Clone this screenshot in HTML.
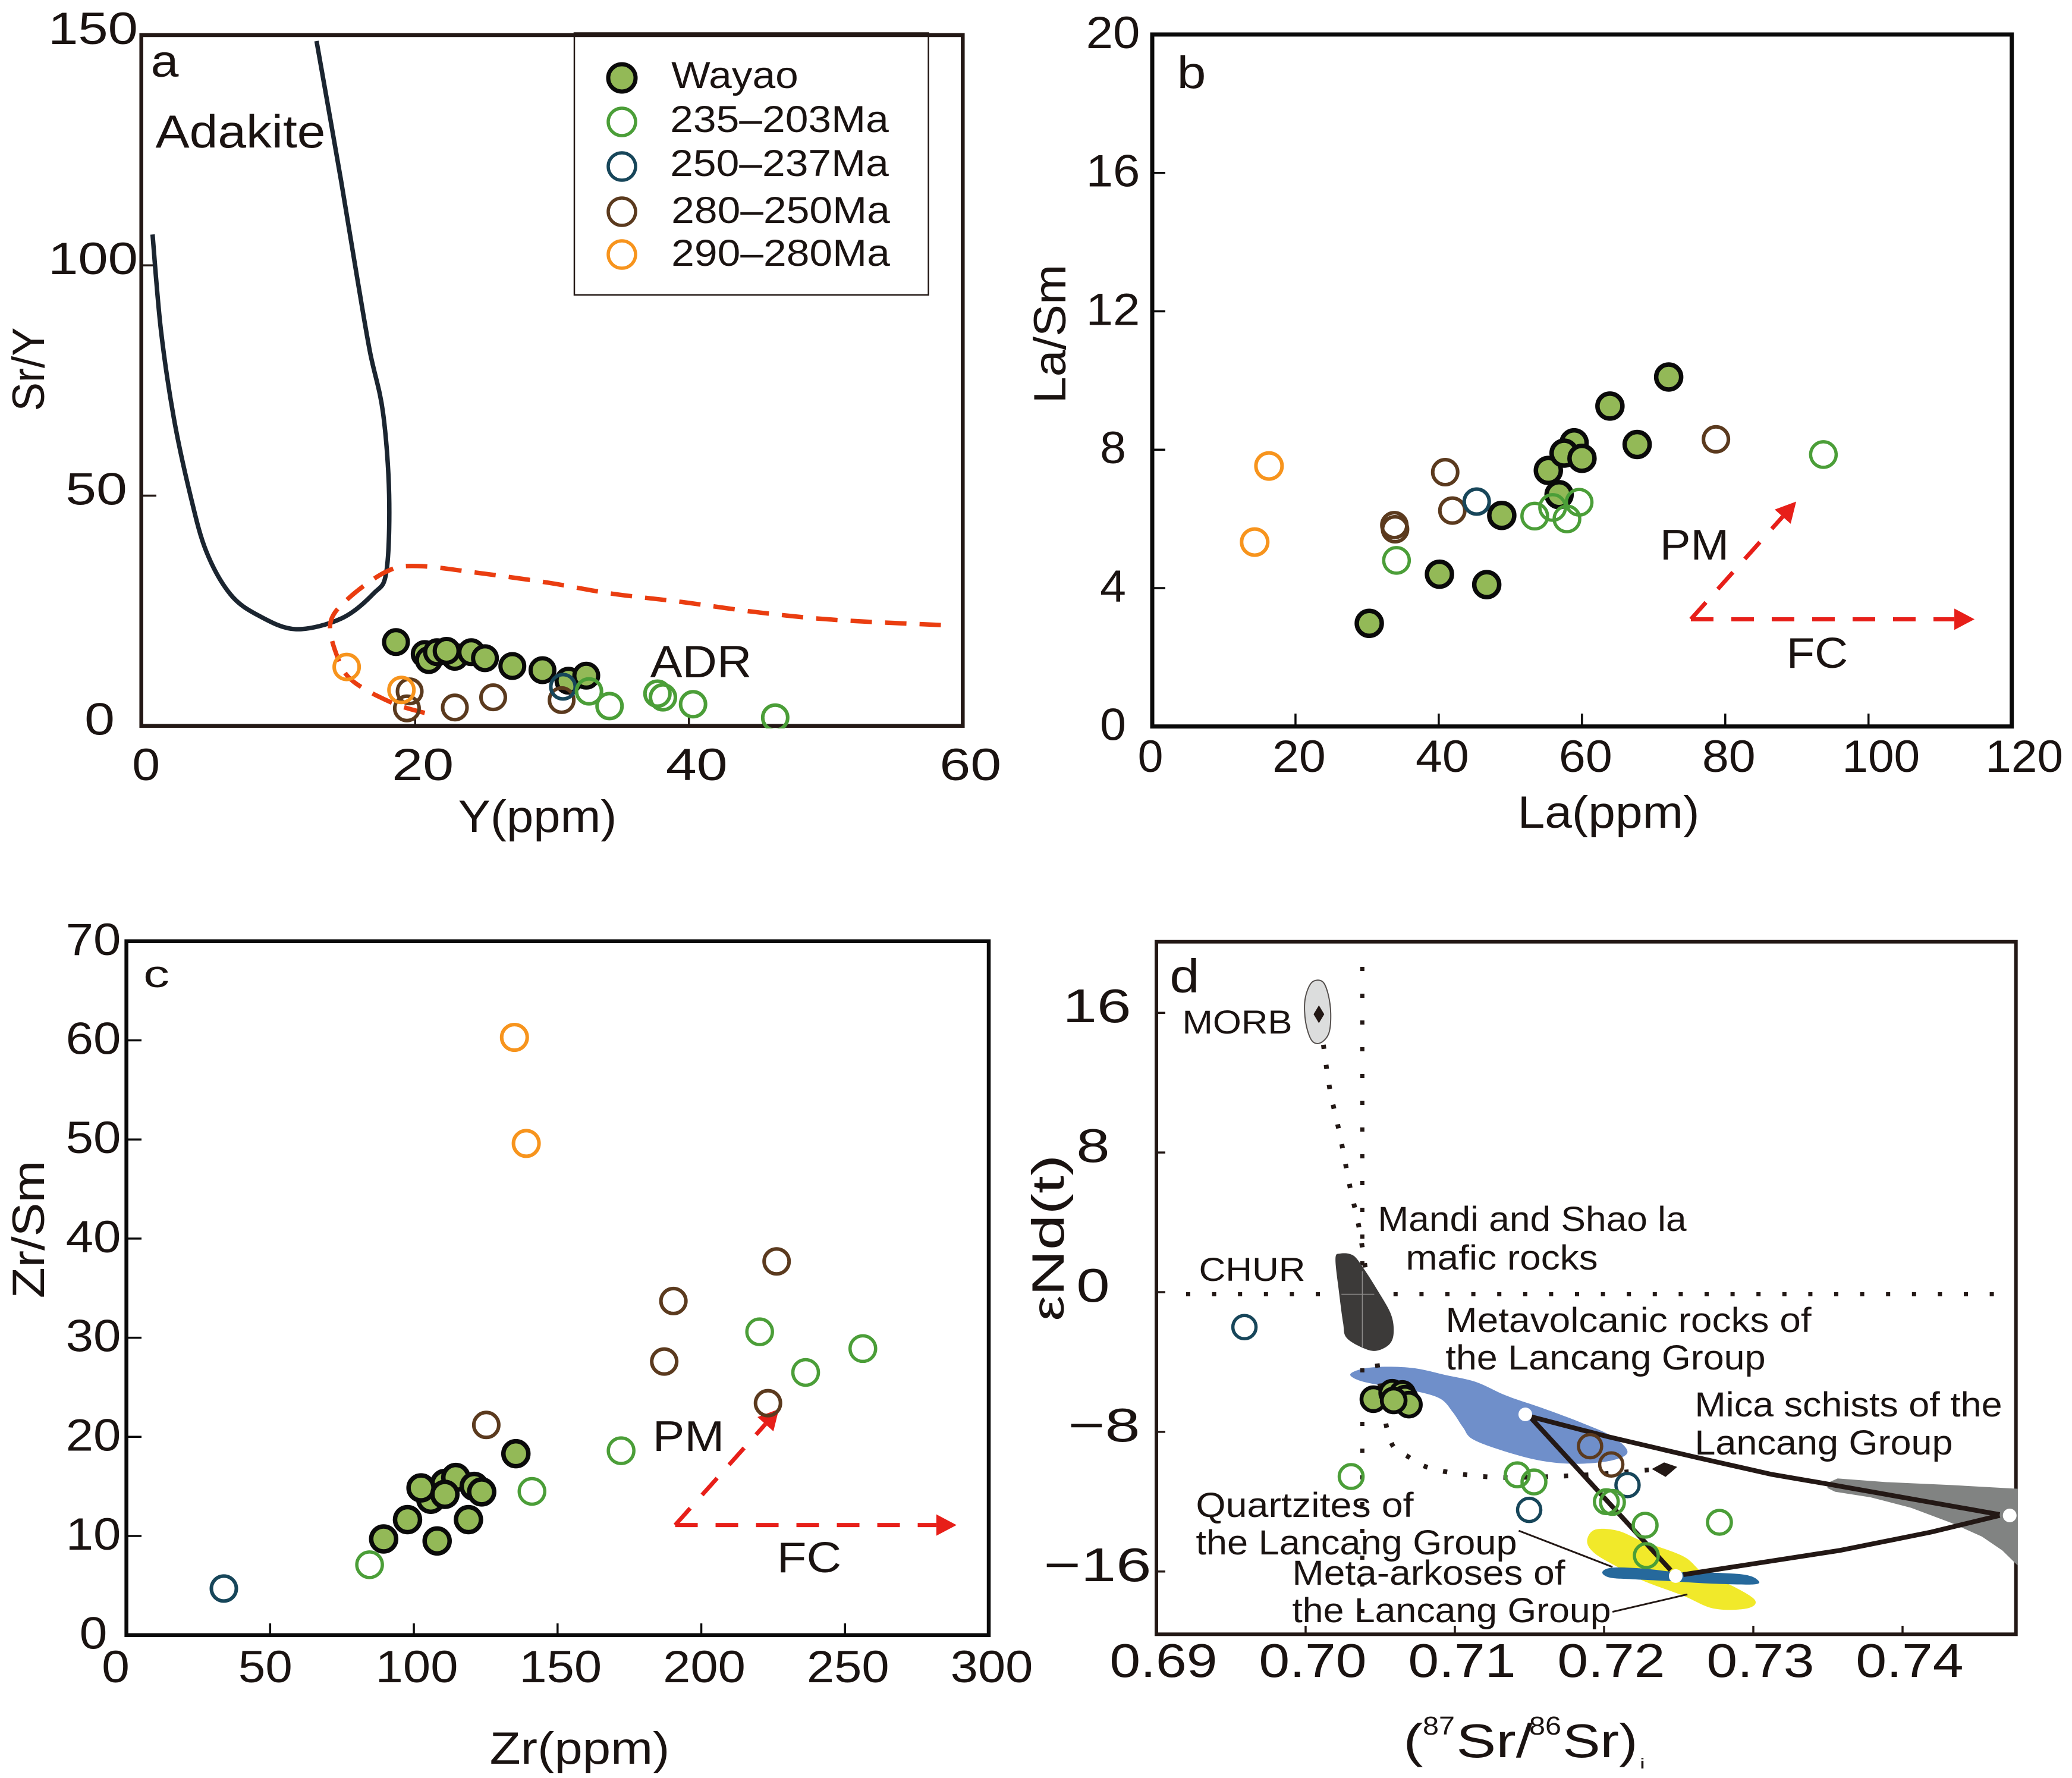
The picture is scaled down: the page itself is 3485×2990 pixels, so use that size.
<!DOCTYPE html>
<html lang="en">
<head>
<meta charset="utf-8">
<title>Geochemical discrimination diagrams</title>
<style>
html,body{margin:0;padding:0;background:#fff;width:3485px;height:2990px;overflow:hidden}
svg{display:block}
text{font-family:"Liberation Sans",sans-serif;fill:#1a1311}
</style>
</head>
<body>
<svg id="fig" xmlns="http://www.w3.org/2000/svg" width="3485" height="2990" viewBox="0 0 3485 2990">
  <rect width="3485" height="2990" fill="#fff"/>
  <defs>
    <clipPath id="clipA"><rect x="200" y="40" width="1440" height="1185"/></clipPath>
  </defs>
</svg>
<script>
/* ---------- Panel a data: Y(ppm) vs Sr/Y ---------- */
const aXTicks=[0,20,40,60];
const aYTicks=[0,50,100,150];
const aWayaoX=[20.7,21.0,21.6,22.9,24.1,25.1,22.3,18.6,27.1,29.3,31.2,32.5];
const aWayaoY=[15.6,14.3,16.0,15.0,16.0,14.7,16.3,18.2,13.0,12.1,9.8,10.9];
const aGreenX=[32.7,34.2,37.7,38.1,40.3,46.3];
const aGreenY=[7.5,4.3,7.0,6.2,4.7,1.8];
const aBlueX=[30.8];
const aBlueY=[8.5];
const aBrownX=[19.6,19.4,22.9,25.7,30.7];
const aBrownY=[7.5,3.8,4.0,6.2,5.6];
const aOrangeX=[15.0,19.0];
const aOrangeY=[12.8,7.8];
const aAdakiteX=[0.82,1.43,2.37,3.55,4.73,6.5,8.6,11.3,14.6,16.95,17.9,18.1,17.65,16.7,15.8,14.6,12.8];
const aAdakiteY=[106.7,86.0,66.9,50.5,38.0,28.6,23.9,21,23.3,28.7,33.5,50.2,68.1,81.2,96.7,118.2,148.7];
const aAdrX=[58.4,50.8,45.2,39.5,34.4,29.7,24.9,20.2,17.9,15.1,13.8,14.4,15.5,18.4,21.1];
const aAdrY=[21.9,23,24.6,26.9,28.7,31.1,33.1,34.7,33.5,27.6,22.2,14.4,9.6,4.9,2.5];

/* ---------- Panel b data: La(ppm) vs La/Sm ---------- */
const bXTicks=[0,20,40,60,80,100,120];
const bYTicks=[0,4,8,12,16,20];
const bWayaoX=[30.3,40.1,46.7,48.8,55.3,56.8,58.9,57.5,60,67.7,63.9,72.1];
const bWayaoY=[2.98,4.4,4.1,6.1,7.4,6.7,8.2,7.9,7.75,8.15,9.26,10.1];
const bGreenX=[53.4,55.9,57.9,59.6,34.1,93.7];
const bGreenY=[6.08,6.33,6.0,6.48,4.8,7.86];
const bBlueX=[45.3];
const bBlueY=[6.5];
const bBrownX=[40.9,41.9,33.8,33.9,78.7];
const bBrownY=[7.35,6.24,5.82,5.7,8.3];
const bOrangeX=[16.3,14.3];
const bOrangeY=[7.53,5.33];
const bArrowOrigin=[75.2,3.1];
const bArrowPM=[89.9,6.5];
const bArrowFC=[114.8,3.1];

/* ---------- Panel c data: Zr(ppm) vs Zr/Sm ---------- */
const cXTicks=[0,50,100,150,200,250,300];
const cYTicks=[0,10,20,30,40,50,60,70];
const cWayaoX=[89.5,97.8,108.1,119,105.9,110.8,114.6,121,102.5,123.6,110.8,135.5];
const cWayaoY=[9.7,11.65,9.5,11.65,13.7,15.3,15.9,15,14.85,14.45,14.2,18.3];
const cGreenX=[84.6,141.1,172.1,220.3,236.3,256.2];
const cGreenY=[7.1,14.5,18.6,30.6,26.5,28.9];
const cBlueX=[33.9];
const cBlueY=[4.7];
const cBrownX=[125.2,187.1,190.3,226.2,223.2];
const cBrownY=[21.2,27.6,33.7,37.7,23.4];
const cOrangeX=[135,139.1];
const cOrangeY=[60.3,49.6];
const cArrowOrigin=[190.9,11.1];
const cArrowPM=[227,22.8];
const cArrowFC=[288.8,11.1];

/* ---------- Panel d data: (87Sr/86Sr)i vs eNd(t) ---------- */
const dXTicks=[0.70,0.71,0.72,0.73,0.74];
const dXTickLabels=['0.69','0.70','0.71','0.72','0.73','0.74'];
const dYTicks=[16,8,0,-8,-16];
const dYTickLabels=['16','8','0','\u22128','\u221216'];
const dWayaoX=[0.70454,0.7058,0.70648,0.70665,0.70692,0.7059];
const dWayaoY=[-6.13,-5.76,-5.83,-6.1,-6.44,-6.2];
const dGreenX=[0.70305,0.71418,0.7153,0.72015,0.72056,0.72275,0.72773,0.72283];
const dGreenY=[-10.56,-10.46,-10.87,-12.0,-12.04,-13.35,-13.18,-15.09];
const dBlueX=[0.6959,0.72157,0.71498];
const dBlueY=[-2.0,-11.05,-12.47];
const dBrownX=[0.71906,0.72048];
const dBrownY=[-8.82,-9.87];
const dMaficX=[0.702,0.70231,0.70319,0.70394,0.70478,0.7057,0.7059,0.70563,0.70478,0.70394,0.70275,0.70251,0.70224];
const dMaficY=[1.89,2.21,2.10,1.29,0.16,-1.23,-2.28,-2.97,-3.35,-3.23,-2.62,-1.75,-0.02];
const dMetavolcanicX=[0.70299,0.70377,0.70529,0.70733,0.70936,0.7114,0.71343,0.71581,0.71852,0.72056,0.72157,0.72056,0.71818,0.71581,0.71343,0.71123,0.71055,0.70987,0.70902,0.70733,0.70495,0.7036];
const dMetavolcanicY=[-4.71,-4.40,-4.27,-4.36,-4.74,-5.14,-5.92,-6.62,-7.49,-8.27,-9.14,-9.63,-9.83,-9.66,-9.14,-8.44,-7.75,-6.88,-6.10,-5.66,-5.32,-5.06];
const dMicaX=[0.73497,0.73565,0.73887,0.74328,0.74772,0.74772,0.74668,0.74532,0.74328,0.74057,0.73786,0.73548,0.73497];
const dMicaY=[-10.93,-10.67,-10.88,-11.05,-11.26,-15.66,-14.79,-14.0,-13.22,-12.35,-11.75,-11.43,-11.22];
const dQuartziteX=[0.71886,0.71937,0.7209,0.72259,0.72531,0.72666,0.7287,0.73012,0.72955,0.72734,0.72531,0.72259,0.7209,0.71937];
const dQuartziteY=[-14.27,-13.61,-13.66,-14.27,-15.13,-16.09,-16.87,-17.65,-18.12,-18.12,-17.39,-16.52,-15.74,-14.96];
const dArkoseX=[0.71988,0.72056,0.72259,0.72497,0.72734,0.72938,0.73023,0.73012,0.72734,0.72463,0.72191,0.72039];
const dArkoseY=[-16.04,-15.78,-15.83,-16.04,-16.07,-16.18,-16.44,-16.73,-16.70,-16.56,-16.44,-16.35];
const dMorbX=[0.69996,0.7004,0.70111,0.7015,0.70168,0.70155,0.70097,0.7004,0.7];
const dMorbY=[16.76,17.73,17.8,17.09,15.95,14.82,14.27,14.43,15.47];
const dMorbDiamond=[0.70089,15.92];
const dEmDiamondX=[0.7232,0.72402,0.7249,0.72412];
const dEmDiamondY=[-10.13,-9.75,-10.01,-10.58];
const dMixCurveX=[0.70119,0.70163,0.7023,0.70296,0.70362,0.70428,0.70472,0.7056,0.70692,0.70869,0.71221,0.71574,0.7197,0.72323];
const dMixCurveY=[14.17,11.59,9.0,6.08,3.5,-0.39,-3.62,-8.32,-9.45,-10.16,-10.58,-10.58,-10.42,-10.16];
const dTriTopX=[0.71513,0.72022,0.72632,0.73124,0.7348,0.74651];
const dTriTopY=[-7.14,-8.27,-9.49,-10.44,-10.96,-12.74];
const dTriBottomX=[0.74651,0.74193,0.73582,0.72531];
const dTriBottomY=[-12.79,-13.74,-14.79,-16.18];
const dTriLeftX=[0.72446,0.71513];
const dTriLeftY=[-15.92,-7.23];
const dEndMemberX=[0.71472,0.7248,0.74718];
const dEndMemberY=[-7.0,-16.26,-12.79];
const dChurY=[-0.12];
const dChurX=[0.7038];

/* ---------- Axis functions ---------- */
const ax=v=>237.7+v*23.027, ay=v=>1220.7-v*7.745;
const bx=v=>1938+v*12.0475, by=v=>1221.7-v*58.185;
const cx=v=>212.6+v*4.8347, cy=v=>2749.7-v*16.67;
const dx=v=>1945+(v-0.69)*25100, dy=v=>2173-v*29.36;

/* ---------- Styles ---------- */
const WAYAO_FILL='#93b957', GREEN='#4b9e38', BLUE='#17465a', BROWN='#5b3a1e', ORANGE='#f7941d';
const INK='#231815';
const NS='http://www.w3.org/2000/svg';
const fig=document.getElementById('fig');

function node(tag,parent,attrs){
  const el=document.createElementNS(NS,tag);
  for(const k in attrs) el.setAttribute(k,attrs[k]);
  parent.appendChild(el);
  return el;
}
function group(name,parent){
  const g=node('g',parent||fig,{});
  
  
  return g;
}
function label(g,name,text,x1,x2,base,size,opts){
  opts=opts||{};
  const b=size*0.045;
  const el=node('text',g,{x:x1-b,y:base,'font-size':size,textLength:(x2-x1+2*b),lengthAdjust:'spacingAndGlyphs'});
  if(opts.fill) el.setAttribute('fill',opts.fill);
  el.textContent=text;
  
  
  return el;
}
function vlabel(g,name,text,baseX,y1,y2,size){
  const b=size*0.045;
  const el=node('text',g,{x:baseX,y:y2+b,'font-size':size,textLength:(y2-y1+2*b),lengthAdjust:'spacingAndGlyphs',transform:'rotate(-90 '+baseX+' '+(y2+b)+')'});
  el.textContent=text;
  
  
  return el;
}
function frame(g,name,l,t,r,b,w,color){
  const el=node('rect',g,{x:l,y:t,width:r-l,height:b-t,fill:'none',stroke:color,'stroke-width':w});
  
  
}
function tick(g,name,x1,y1,x2,y2,color){
  const el=node('line',g,{x1:x1,y1:y1,x2:x2,y2:y2,stroke:color,'stroke-width':3.5});
  
  
}
function ring(g,name,x,y,r,stroke,sw,fill){
  const el=node('circle',g,{cx:x,cy:y,r:r,fill:fill||'none',stroke:stroke,'stroke-width':sw});
  
  
}
function series(parent,name,xs,ys,sx,sy,stroke,r,sw,fill){
  const g=group(name,parent);
  xs.forEach((v,i)=>ring(g,name+'-point',sx(v),sy(ys[i]),r,stroke,sw,fill));
  return g;
}
function smooth(pts,closed){
  const n=pts.length;
  const at=i=>closed?pts[(i+n)%n]:pts[Math.max(0,Math.min(n-1,i))];
  let d='M'+pts[0][0].toFixed(1)+' '+pts[0][1].toFixed(1);
  const end=closed?n:n-1;
  for(let i=0;i<end;i++){
    const p0=at(i-1),p1=at(i),p2=at(i+1),p3=at(i+2);
    const c1=[p1[0]+(p2[0]-p0[0])/6,p1[1]+(p2[1]-p0[1])/6];
    const c2=[p2[0]-(p3[0]-p1[0])/6,p2[1]-(p3[1]-p1[1])/6];
    d+='C'+c1[0].toFixed(1)+' '+c1[1].toFixed(1)+' '+c2[0].toFixed(1)+' '+c2[1].toFixed(1)+' '+p2[0].toFixed(1)+' '+p2[1].toFixed(1);
  }
  return d+(closed?'Z':'');
}
function straight(pts,closed){
  return 'M'+pts.map(p=>p[0].toFixed(1)+' '+p[1].toFixed(1)).join('L')+(closed?'Z':'');
}
function toPts(xs,ys,sx,sy){return xs.map((v,i)=>[sx(v),sy(ys[i])]);}
function shape(g,name,d,attrs){
  const el=node('path',g,Object.assign({d:d},attrs));
  
  
  return el;
}
function arrow(g,name,o,t,sx,sy){
  const x1=sx(o[0]),y1=sy(o[1]),x2=sx(t[0]),y2=sy(t[1]);
  const a=Math.atan2(y2-y1,x2-x1),L=34,W=18;
  const bx0=x2-L*Math.cos(a),by0=y2-L*Math.sin(a);
  const d='M'+x1+' '+y1+'L'+bx0+' '+by0;
  shape(g,name+'-shaft',d,{fill:'none',stroke:'#e71f19','stroke-width':7,'stroke-dasharray':'38 30'});
  const h='M'+x2+' '+y2+'L'+(bx0-W*Math.sin(a))+' '+(by0+W*Math.cos(a))+'L'+(bx0+W*Math.sin(a))+' '+(by0-W*Math.cos(a))+'Z';
  shape(g,name+'-head',h,{fill:'#e71f19'});
}

/* ---------- Panel a ---------- */
(function(){
  const g=group('panel-a');
  frame(g,'panel-a-frame',237.7,59,1619.3,1220.7,6.5,INK);
  aXTicks.slice(1,-1).forEach(t=>tick(g,'x-tick',ax(t),1220.7,ax(t),1206,INK));
  aYTicks.slice(1,-1).forEach(t=>tick(g,'y-tick',237.7,ay(t),263,ay(t),INK));
  aXTicks.forEach(t=>{
    const s=String(t), c=ax(t)+(s.length===1?8:13), w=s.length===1?40:97;
    label(g,'x-tick-label',s,c-w/2,c+w/2,1312,76);
  });
  aYTicks.forEach(t=>{
    const s=String(t), n=s.length, c=173-5.5*n, w=n===3?144:n===2?97:44;
    label(g,'y-tick-label',s,c-w/2,c+w/2,ay(t)+15,76);
  });
  label(g,'x-axis-title','Y(ppm)',774,1034,1399,76);
  vlabel(g,'y-axis-title','Sr/Y',74,554,688,76);
  label(g,'panel-a-letter','a',257,297,129,76);
  label(g,'adakite-label','Adakite',265,544,248,78);
  label(g,'adr-label','ADR',1097,1261,1139,76);
  shape(g,'adakite-field-boundary',smooth(toPts(aAdakiteX,aAdakiteY,ax,ay),false),{fill:'none',stroke:'#1b2530','stroke-width':7.5});
  shape(g,'adr-field-boundary',smooth(toPts(aAdrX,aAdrY,ax,ay),false),{fill:'none',stroke:'#ea3d10','stroke-width':7.5,'stroke-dasharray':'36 22'});
  const pts=group('panel-a-points',g);
  pts.setAttribute('clip-path','url(#clipA)');
  series(pts,'a-wayao',aWayaoX,aWayaoY,ax,ay,'#0a0a0a',20,7,WAYAO_FILL);
  series(pts,'a-brown',aBrownX,aBrownY,ax,ay,BROWN,20.5,6);
  series(pts,'a-blue',aBlueX,aBlueY,ax,ay,BLUE,20.5,6);
  series(pts,'a-green',aGreenX,aGreenY,ax,ay,GREEN,21,6);
  series(pts,'a-orange',aOrangeX,aOrangeY,ax,ay,ORANGE,21,6);
  /* legend */
  const lg=group('legend',g);
  const box=node('rect',lg,{x:966,y:55.5,width:595.6,height:440.5,fill:'none',stroke:INK,'stroke-width':2.5});
  
  
  const rows=[
    ['Wayao',131,148,1132,1340,'#0a0a0a',WAYAO_FILL,7],
    ['235\u2013203Ma',205,222,1130,1492,GREEN,null,5.5],
    ['250\u2013237Ma',280,296,1130,1492,BLUE,null,5.5],
    ['280\u2013250Ma',356,375,1132,1494,BROWN,null,5.5],
    ['290\u2013280Ma',428,447,1132,1494,ORANGE,null,5.5]
  ];
  rows.forEach(r=>{
    ring(lg,'legend-marker',1046,r[1],23,r[5],r[7],r[6]);
    label(lg,'legend-entry',r[0],r[3],r[4],r[2],63);
  });
})();

/* ---------- Panel b ---------- */
(function(){
  const g=group('panel-b');
  frame(g,'panel-b-frame',1938,58,3383.7,1221.7,7,'#0a0a0a');
  bXTicks.slice(1,-1).forEach(t=>tick(g,'x-tick',bx(t),1221.7,bx(t),1200,'#0a0a0a'));
  bYTicks.slice(1,-1).forEach(t=>tick(g,'y-tick',1938,by(t),1960,by(t),'#0a0a0a'));
  bXTicks.forEach(t=>{
    const s=String(t), n=s.length, d=n===1?-3:n===2?6:21, w=n===1?36:n===2?83:124;
    const c=bx(t)+d;
    label(g,'x-tick-label',s,c-w/2,c+w/2,1298,76);
  });
  bYTicks.forEach(t=>{
    const s=String(t), w=s.length===1?37:84;
    label(g,'y-tick-label',s,1872-w/2,1872+w/2,by(t)+23,76);
  });
  label(g,'x-axis-title','La(ppm)',2556,2855,1392,76);
  vlabel(g,'y-axis-title','La/Sm',1792,448,675,76);
  label(g,'panel-b-letter','b',1983,2025,148,76);
  label(g,'pm-label','PM',2795,2905,941,72);
  label(g,'fc-label','FC',3008,3105,1123,72);
  arrow(g,'pm-arrow',bArrowOrigin,bArrowPM,bx,by);
  arrow(g,'fc-arrow',bArrowOrigin,bArrowFC,bx,by);
  series(g,'b-wayao',bWayaoX,bWayaoY,bx,by,'#0a0a0a',21,7.5,WAYAO_FILL);
  series(g,'b-brown',bBrownX,bBrownY,bx,by,BROWN,21,6);
  series(g,'b-blue',bBlueX,bBlueY,bx,by,BLUE,21,6);
  series(g,'b-green',bGreenX,bGreenY,bx,by,GREEN,21.5,5.5);
  series(g,'b-orange',bOrangeX,bOrangeY,bx,by,ORANGE,22,6);
})();

/* ---------- Panel c ---------- */
(function(){
  const g=group('panel-c');
  frame(g,'panel-c-frame',212.6,1582.8,1663,2749.7,6.5,'#0a0a0a');
  cXTicks.slice(1,-1).forEach(t=>tick(g,'x-tick',cx(t),2749.7,cx(t),2730,'#0a0a0a'));
  cYTicks.slice(1,-1).forEach(t=>tick(g,'y-tick',212.6,cy(t),238,cy(t),'#0a0a0a'));
  cXTicks.forEach(t=>{
    const s=String(t), n=s.length, d=n===1?-18:n===2?-8:5, w=n===1?40:n===2?84:132;
    const c=cx(t)+d;
    label(g,'x-tick-label',s,c-w/2,c+w/2,2829,76);
  });
  cYTicks.forEach(t=>{
    const s=String(t), w=s.length===1?40:86;
    label(g,'y-tick-label',s,157-w/2,157+w/2,cy(t)+23,76);
  });
  label(g,'x-axis-title','Zr(ppm)',827,1123,2966,76);
  vlabel(g,'y-axis-title','Zr/Sm',74,1955,2180,76);
  label(g,'panel-c-letter','c',244,282,1660,64);
  label(g,'pm-label','PM',1101,1215,2440,72);
  label(g,'fc-label','FC',1310,1412,2644,72);
  series(g,'c-wayao',cWayaoX,cWayaoY,cx,cy,'#0a0a0a',21,7.5,WAYAO_FILL);
  arrow(g,'pm-arrow',cArrowOrigin,cArrowPM,cx,cy);
  arrow(g,'fc-arrow',cArrowOrigin,cArrowFC,cx,cy);
  series(g,'c-brown',cBrownX,cBrownY,cx,cy,BROWN,21,6);
  series(g,'c-blue',cBlueX,cBlueY,cx,cy,BLUE,21,6);
  series(g,'c-green',cGreenX,cGreenY,cx,cy,GREEN,21.5,5.5);
  series(g,'c-orange',cOrangeX,cOrangeY,cx,cy,ORANGE,21.5,6);
})();

/* ---------- Panel d ---------- */
(function(){
  const g=group('panel-d');
  frame(g,'panel-d-frame',1945,1583.7,3390.7,2748.3,6,INK);
  dXTicks.forEach(t=>tick(g,'x-tick',dx(t),2748.3,dx(t),2734,INK));
  dYTicks.forEach(t=>tick(g,'y-tick',1945,dy(t),1960,dy(t),INK));
  dXTickLabels.forEach(s=>{
    const c=dx(parseFloat(s))+12;
    label(g,'x-tick-label',s,c-87,c+87,2820,80);
  });
  dYTickLabels.forEach((s,i)=>{
    const neg=s.charAt(0)==='\u2212', n=s.length;
    const l=neg?(n===3?1759:1800):(n===2?1791:1814);
    const r=neg?(n===3?1933:1914):(n===2?1899:1863);
    label(g,'y-tick-label',s,l,r,dy(dYTicks[i])+16,80);
  });
  /* axis titles */
  const yt=group('y-axis-title',g);
  vlabel(yt,'y-title-epsilon','\u03b5',1789,2182,2218,76);
  vlabel(yt,'y-title-nd-t','Nd(t)',1789,1945,2176,76);
  const tg=group('x-axis-title',g);
  label(tg,'x-title-open-paren','(',2364,2390,2955,80);
  label(tg,'x-title-87','87',2395,2445,2917,44);
  label(tg,'x-title-sr-slash','Sr/',2453,2574,2955,80);
  label(tg,'x-title-86','86',2574,2624,2917,44);
  label(tg,'x-title-sr-close','Sr)',2632,2751,2955,80);
  label(tg,'x-title-subscript','i',2759,2766,2974,24,{fill:'#777'});
  /* fields */
  shape(g,'metavolcanic-field',smooth(toPts(dMetavolcanicX,dMetavolcanicY,dx,dy),true),{fill:'#6f8fca'});
  shape(g,'mica-schist-field',straight(toPts(dMicaX,dMicaY,dx,dy),true),{fill:'#818382'});
  shape(g,'meta-arkose-field',smooth(toPts(dQuartziteX,dQuartziteY,dx,dy),true),{fill:'#f1e92a'});
  shape(g,'quartzite-field',smooth(toPts(dArkoseX,dArkoseY,dx,dy),true),{fill:'#26699c'});
  shape(g,'morb-field',smooth(toPts(dMorbX,dMorbY,dx,dy),true),{fill:'#dcdddd',stroke:'#55504e','stroke-width':2});
  /* reference dotted lines */
  const h=node('line',g,{x1:1995,x2:3390,y1:dy(dChurY[0]),y2:dy(dChurY[0]),stroke:INK,'stroke-width':7,'stroke-dasharray':'7 36.6'});
  
  
  const v=node('line',g,{x1:dx(dChurX[0]),x2:dx(dChurX[0]),y1:1626,y2:2735,stroke:INK,'stroke-width':7,'stroke-dasharray':'7 38'});
  
  
  shape(g,'mixing-curve',smooth(toPts(dMixCurveX,dMixCurveY,dx,dy),false),{fill:'none',stroke:INK,'stroke-width':8,'stroke-dasharray':'7 27'});
  /* mafic field sits above the dots */
  shape(g,'mandi-shaola-field',smooth(toPts(dMaficX,dMaficY,dx,dy),true),{fill:'#3c3a39'});
  const crossH=node('line',g,{x1:dx(0.7024),x2:dx(0.7046),y1:dy(-0.12),y2:dy(-0.12),stroke:'#8d8b8a','stroke-width':1.5});
  
  
  const crossV=node('line',g,{x1:dx(0.7038),x2:dx(0.7038),y1:dy(1.2),y2:dy(-3.2),stroke:'#8d8b8a','stroke-width':1.5});
  
  
  /* diamonds */
  const md=[dx(dMorbDiamond[0]),dy(dMorbDiamond[1])];
  shape(g,'morb-diamond','M'+md[0]+' '+(md[1]-15)+'L'+(md[0]+9)+' '+md[1]+'L'+md[0]+' '+(md[1]+15)+'L'+(md[0]-9)+' '+md[1]+'Z',{fill:INK});
  shape(g,'em-diamond',straight(toPts(dEmDiamondX,dEmDiamondY,dx,dy),true),{fill:INK});
  /* triangle */
  [[dTriTopX,dTriTopY,'mixing-line-top'],[dTriBottomX,dTriBottomY,'mixing-line-bottom'],[dTriLeftX,dTriLeftY,'mixing-line-left']].forEach(a=>{
    shape(g,a[2],straight(toPts(a[0],a[1],dx,dy),false),{fill:'none',stroke:INK,'stroke-width':8});
  });
  /* leaders */
  shape(g,'quartzite-leader',straight([[dx(0.71428),dy(-13.66)],[dx(0.72056),dy(-15.74)]],false),{fill:'none',stroke:INK,'stroke-width':3});
  shape(g,'arkose-leader',straight([[dx(0.72056),dy(-18.31)],[dx(0.72558),dy(-17.31)]],false),{fill:'none',stroke:INK,'stroke-width':3});
  series(g,'d-end-members',dEndMemberX,dEndMemberY,dx,dy,'#fff',10.5,2,'#fff');
  /* text */
  label(g,'panel-d-letter','d',1971,2014,1669,80);
  label(g,'morb-label','MORB',1991,2171,1738,56);
  label(g,'chur-label','CHUR',2019,2193,2154,56);
  label(g,'mafic-label-line-1','Mandi and Shao la',2320,2834,2070,58);
  label(g,'mafic-label-line-2','mafic rocks',2367,2685,2135,58);
  label(g,'metavolcanic-label-line-1','Metavolcanic rocks of',2434,3044,2240,58);
  label(g,'metavolcanic-label-line-2','the Lancang Group',2434,2967,2303,58);
  label(g,'mica-label-line-1','Mica schists of the',2853,3365,2382,58);
  label(g,'mica-label-line-2','Lancang Group',2853,3282,2446,58);
  label(g,'quartzite-label-line-1','Quartzites of',2014,2375,2551,58);
  label(g,'quartzite-label-line-2','the Lancang Group',2014,2549,2614,58);
  label(g,'arkose-label-line-1','Meta-arkoses of',2176,2630,2665,58);
  label(g,'arkose-label-line-2','the Lancang Group',2176,2707,2728,58);
  /* points */
  series(g,'d-wayao',dWayaoX,dWayaoY,dx,dy,'#0a0a0a',20,6.5,WAYAO_FILL);
  series(g,'d-brown',dBrownX,dBrownY,dx,dy,BROWN,19.5,5.5);
  series(g,'d-blue',dBlueX,dBlueY,dx,dy,BLUE,19.5,5.5);
  series(g,'d-green',dGreenX,dGreenY,dx,dy,GREEN,20,5.5);
})();
</script>
</body>
</html>
